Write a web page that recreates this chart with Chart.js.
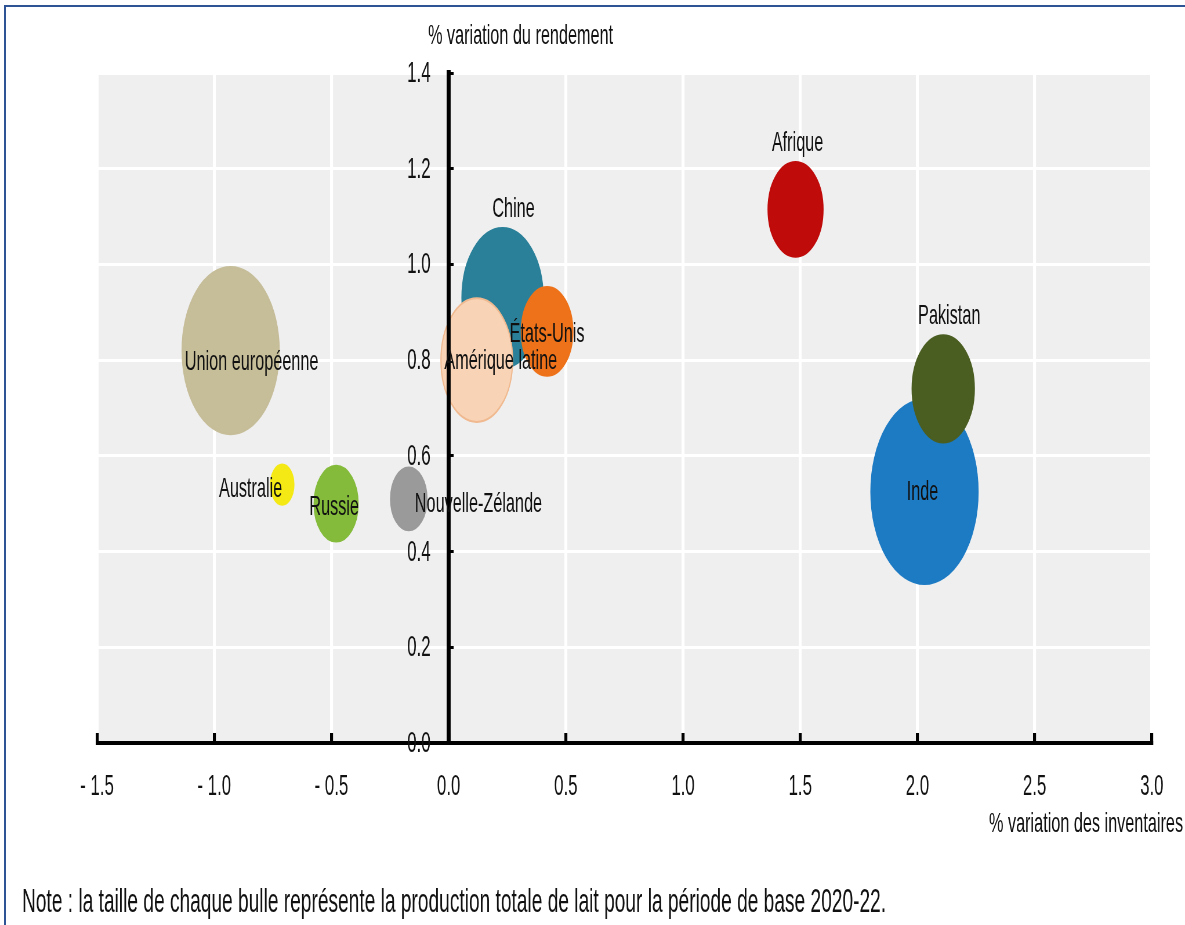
<!DOCTYPE html>
<html lang="fr">
<head>
<meta charset="utf-8">
<script src="https://cdn.jsdelivr.net/npm/chart.js@4.4.1/dist/chart.umd.min.js"></script>
<style>
  html, body { margin: 0; padding: 0; background: #fff; overflow: hidden; }
  #chart { position: absolute; left: 0; top: 0; }
  #frame { position: absolute; left: 4px; top: 5px; width: 1300px; height: 1000px;
           border: 2px solid #2f5496; pointer-events: none; }
</style>
</head>
<body>
<canvas id="chart" width="2043" height="925" style="width:1185px;height:925px"></canvas>
<div id="frame"></div>
<script>
const countries = ['Afrique', 'Chine', 'États-Unis', 'Amérique latine', 'Union européenne',
                   'Inde', 'Pakistan', 'Australie', 'Russie', 'Nouvelle-Zélande'];
const inventoryChange = [1.48, 0.23, 0.42, 0.12, -0.93, 2.03, 2.11, -0.71, -0.48, -0.17];
const yieldChange = [1.115, 0.93, 0.86, 0.80, 0.82, 0.525, 0.74, 0.54, 0.50, 0.51];
// milk production, base period 2020-22 (bubble size)
const milkProduction = [50, 109, 44, 85, 156, 190, 64, 9, 32, 22];
const xTickLabels = ['- 1.5', '- 1.0', '- 0.5', '0.0', '0.5', '1.0', '1.5', '2.0', '2.5', '3.0'];
const yTickLabels = ['0.0', '0.2', '0.4', '0.6', '0.8', '1.0', '1.2', '1.4'];

const bubbleColors = ['#c00b0b', '#2a8099', '#ee7219', '#f8d3b6', '#c6bd99',
                      '#1d7bc4', '#4b5e22', '#f4e914', '#84bb3b', '#9a9a9a'];
const bubbleBorders = ['#c00b0b', '#2a8099', '#ee7219', '#f0b98f', '#c6bd99',
                       '#1d7bc4', '#4b5e22', '#f4e914', '#84bb3b', '#9a9a9a'];

// where each name sits relative to its bubble (dx in screen px)
const labelPlacement = {
  'Afrique': { pos: 'top', align: 'center', dx: 2, dy: 0 },
  'Chine': { pos: 'top', align: 'center', dx: 11, dy: 0 },
  'États-Unis': { pos: 'center', align: 'center', dx: 0, dy: 3 },
  'Amérique latine': { pos: 'center', align: 'center', dx: 24, dy: 1 },
  'Union européenne': { pos: 'center', align: 'center', dx: 21, dy: 12 },
  'Inde': { pos: 'center', align: 'center', dx: -2, dy: 1 },
  'Pakistan': { pos: 'top', align: 'center', dx: 6, dy: 0 },
  'Australie': { pos: 'center', align: 'right', dx: 0, dy: 5 },
  'Russie': { pos: 'center', align: 'center', dx: -2, dy: 4 },
  'Nouvelle-Zélande': { pos: 'center', align: 'left', dx: 6, dy: 5 }
};

// the reference is squeezed horizontally: canvas is drawn wide, shown at 1185px
const SX = 0.58;
const W = 2043;
const px = v => v / SX;
const FONT_FAMILY = '"Liberation Sans", Arial, sans-serif';
const TEXT = '#111';

function bubbleRadius(prod) {
  return 6.7 * Math.sqrt(prod);
}

const panelPlugin = {
  id: 'panel',
  beforeDraw(chart) {
    const { ctx, chartArea: a } = chart;
    ctx.save();
    ctx.fillStyle = '#efefef';
    ctx.fillRect(a.left, a.top, a.right - a.left, a.bottom - a.top);
    ctx.restore();
  }
};

const textPlugin = {
  id: 'texts',
  afterDraw(chart) {
    const ctx = chart.ctx;
    const meta = chart.getDatasetMeta(0);
    const xs = chart.scales.x;
    const ys = chart.scales.y;
    ctx.save();
    ctx.fillStyle = TEXT;
    ctx.textBaseline = 'middle';

    // y tick labels, left of the axis at x = 0
    ctx.font = '29px ' + FONT_FAMILY;
    ctx.textAlign = 'right';
    const axisX = xs.getPixelForValue(0);
    ys.ticks.forEach((t, i) => {
      ctx.fillText(yTickLabels[i], axisX - px(18), ys.getPixelForValue(t.value) + 1);
    });

    ctx.font = '28px ' + FONT_FAMILY;
    meta.data.forEach((pt, i) => {
      const p = labelPlacement[countries[i]];
      const r = pt.options.radius;
      let y = pt.y + p.dy;
      if (p.pos === 'top') y = pt.y - r - 19;
      ctx.textAlign = p.align;
      ctx.fillText(countries[i], pt.x + px(p.dx), y);
    });

    ctx.textAlign = 'left';
    ctx.fillText('% variation du rendement', px(428), 36);
    ctx.textAlign = 'right';
    ctx.fillText('% variation des inventaires', px(1183), 824);
    ctx.textAlign = 'left';
    ctx.font = '33px ' + FONT_FAMILY;
    ctx.fillText('Note : la taille de chaque bulle représente la production totale de lait pour la période de base 2020-22.', px(22), 903);
    ctx.restore();
  }
};

new Chart(document.getElementById('chart'), {
  type: 'bubble',
  data: {
    datasets: [{
      data: countries.map((c, i) => ({
        x: inventoryChange[i],
        y: yieldChange[i],
        r: bubbleRadius(milkProduction[i])
      })),
      backgroundColor: bubbleColors,
      borderColor: bubbleBorders,
      borderWidth: 2
    }]
  },
  options: {
    responsive: false,
    animation: false,
    events: [],
    layout: {
      autoPadding: false,
      padding: { left: px(97), right: W - px(1155), top: 73, bottom: 120 }
    },
    plugins: { legend: { display: false }, tooltip: { enabled: false } },
    scales: {
      x: {
        type: 'linear',
        position: 'bottom',
        min: -1.5,
        max: 3,
        afterFit: s => { s.height = 62; },
        ticks: {
          stepSize: 0.5,
          autoSkip: false,
          maxRotation: 0,
          padding: 37,
          color: TEXT,
          font: { family: FONT_FAMILY, size: 29 },
          callback: (v, i) => xTickLabels[i]
        },
        grid: { color: '#fff', lineWidth: px(3), tickColor: '#000', tickWidth: px(3), tickLength: -10 },
        border: { display: true, color: '#000', width: 4, z: 1 }
      },
      y: {
        type: 'linear',
        position: { x: 0 },
        min: 0,
        max: 1.4,
        ticks: { stepSize: 0.2, display: false },
        grid: { color: '#fff', lineWidth: 3, tickColor: '#000', tickWidth: 3, tickLength: -12 },
        border: { display: true, color: '#000', width: px(4), z: 1 }
      }
    }
  },
  plugins: [panelPlugin, textPlugin]
});
</script>
</body>
</html>
